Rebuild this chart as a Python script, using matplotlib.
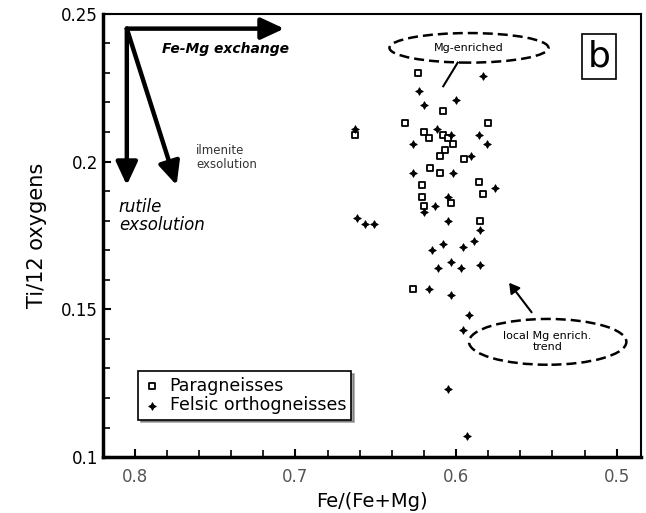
"""
Ti per 12 oxygens vs Fe/(Fe+Mg) -- panel b
"""

### Import modules
import numpy as np
import matplotlib
matplotlib.use('Agg')
import matplotlib.pyplot as plt
from matplotlib.patches import Ellipse

### Data
para_x = [0.663, 0.624, 0.608, 0.632, 0.580, 0.620, 0.608, 0.605, 0.602, 0.607,
          0.610, 0.617, 0.595, 0.616, 0.610, 0.621, 0.621, 0.620, 0.603, 0.586,
          0.583, 0.585, 0.627]
para_y = [0.209, 0.230, 0.217, 0.213, 0.213, 0.210, 0.209, 0.208, 0.206, 0.204,
          0.202, 0.208, 0.201, 0.198, 0.196, 0.192, 0.188, 0.185, 0.186, 0.193,
          0.189, 0.180, 0.157]

fels_x = [0.583, 0.623, 0.620, 0.600, 0.627, 0.586, 0.581, 0.591, 0.602, 0.627,
          0.576, 0.620, 0.613, 0.605, 0.605, 0.585, 0.589, 0.596, 0.608, 0.615,
          0.603, 0.611, 0.597, 0.585, 0.617, 0.603, 0.592, 0.596, 0.605, 0.593,
          0.662, 0.657, 0.651, 0.663, 0.603, 0.612]
fels_y = [0.229, 0.224, 0.219, 0.221, 0.206, 0.209, 0.206, 0.202, 0.196, 0.196,
          0.191, 0.183, 0.185, 0.188, 0.180, 0.177, 0.173, 0.171, 0.172, 0.170,
          0.166, 0.164, 0.164, 0.165, 0.157, 0.155, 0.148, 0.143, 0.123, 0.107,
          0.181, 0.179, 0.179, 0.211, 0.209, 0.211]

xticks = [0.8, 0.7, 0.6, 0.5]
xticklabels = ['0.8', '0.7', '0.6', '0.5']
yticks = [0.1, 0.15, 0.2, 0.25]
yticklabels = ['0.1', '0.15', '0.2', '0.25']

### Figure
plt.rc('font', family='DejaVu Sans')
fig = plt.figure(figsize=(6.46, 5.13), dpi=100)
ax = fig.add_axes([0.159, 0.109, 0.833, 0.864])

ax.scatter(para_x, para_y, marker='s', s=22, facecolors='white',
           edgecolors='black', linewidths=1.3, zorder=3, label='Paragneisses')
ax.scatter(fels_x, fels_y, marker=(4, 1, 0), s=30, color='black',
           linewidths=0.6, zorder=3, label='Felsic orthogneisses')

ax.set_xlim(0.82, 0.485)
ax.set_ylim(0.1, 0.25)
ax.set_xticks(xticks)
ax.set_xticklabels(xticklabels, color='#555555')
ax.set_yticks(yticks)
ax.set_yticklabels(yticklabels)
ax.set_xticks(np.arange(0.5, 0.82, 0.02), minor=True)
ax.set_yticks(np.arange(0.1, 0.25, 0.01), minor=True)
ax.tick_params(which='both', direction='in', labelsize=12)
ax.tick_params(which='major', length=6, width=1.5)
ax.tick_params(which='minor', length=5, width=1.2)
ax.tick_params(axis='x', pad=8)
for loc in ['left', 'bottom']:
    ax.spines[loc].set_linewidth(2.5)
for loc in ['top', 'right']:
    ax.spines[loc].set_linewidth(1.5)

ax.set_xlabel('Fe/(Fe+Mg)', fontsize=14)
ax.set_ylabel('Ti/12 oxygens', fontsize=15, labelpad=10)

### Exsolution / exchange vectors
akw = dict(arrowstyle='-|>,head_length=1.4,head_width=0.65', lw=3.2,
           color='black', shrinkA=0, shrinkB=0)
ax.annotate('', xy=(0.707, 0.245), xytext=(0.805, 0.245), arrowprops=akw)
ax.annotate('', xy=(0.805, 0.192), xytext=(0.805, 0.245), arrowprops=akw)
ax.annotate('', xy=(0.774, 0.192), xytext=(0.805, 0.245), arrowprops=akw)

ax.text(0.783, 0.238, 'Fe-Mg exchange', fontsize=10, fontweight='bold',
        style='italic', va='center', ha='left')
ax.text(0.762, 0.2015, 'ilmenite\nexsolution', fontsize=8.5, va='center',
        ha='left', color='#333333', linespacing=1.1)
ax.text(0.810, 0.1815, 'rutile\nexsolution', fontsize=12, style='italic',
        va='center', ha='left', linespacing=1.0)

### Ellipse call-outs
e1 = Ellipse((0.592, 0.2385), width=0.099, height=0.010, fill=False,
             linestyle=(0, (4, 2)), lw=1.8)
ax.add_patch(e1)
ax.text(0.592, 0.2385, 'Mg-enriched', fontsize=8, ha='center', va='center')
ax.plot([0.599, 0.608], [0.2335, 0.2255], color='black', lw=1.5)

e2 = Ellipse((0.543, 0.139), width=0.098, height=0.0155, fill=False,
             linestyle=(0, (4, 2)), lw=1.8)
ax.add_patch(e2)
ax.text(0.543, 0.139, 'local Mg enrich.\ntrend', fontsize=8, ha='center',
        va='center', linespacing=1.1)
ax.annotate('', xy=(0.567, 0.159), xytext=(0.553, 0.149),
            arrowprops=dict(arrowstyle='-|>,head_length=0.6,head_width=0.35',
                            lw=1.5, color='black', shrinkA=0, shrinkB=0))

### Panel letter
ax.text(0.511, 0.2355, 'b', fontsize=26, ha='center', va='center',
        bbox=dict(boxstyle='square,pad=0.15', fc='white', ec='black', lw=1.2))

### Legend
leg = ax.legend(loc='lower left', bbox_to_anchor=(0.05, 0.065), fontsize=12.5,
                frameon=True, fancybox=False, shadow=True, handletextpad=0.5,
                borderpad=0.3, labelspacing=0.1, handlelength=1.0)
leg.get_frame().set_edgecolor('black')
leg.get_frame().set_linewidth(1.2)

plt.savefig('out.png', dpi=100)
